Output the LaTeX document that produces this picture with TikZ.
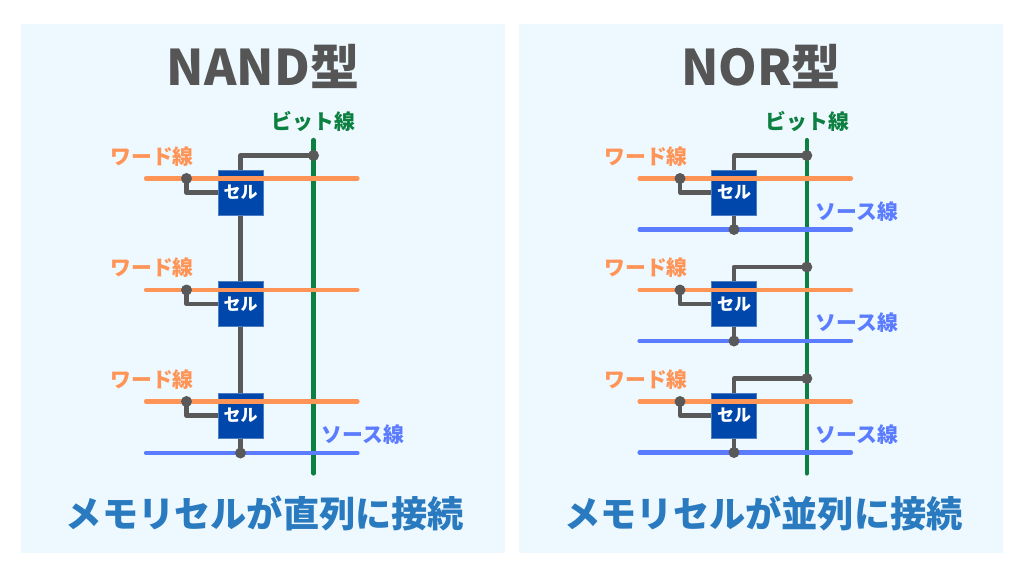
\documentclass[tikz,border=0pt]{standalone}
\usepackage{fontspec}
\setmainfont{Noto Sans CJK JP}
\usetikzlibrary{calc}
\definecolor{panelbg}{HTML}{EDF8FF}
\definecolor{titlegray}{HTML}{555555}
\definecolor{capblue}{HTML}{2A7ABF}
\definecolor{bitgreen}{HTML}{0B8040}
\definecolor{wordorange}{HTML}{FF9457}
\definecolor{srcblue}{HTML}{5B7CFF}
\definecolor{cellblue}{HTML}{0047AB}
\definecolor{wiregray}{HTML}{595959}
\pgfdeclarelayer{wires}
\pgfdeclarelayer{hlines}
\pgfdeclarelayer{dots}
\pgfsetlayers{wires,main,hlines,dots}
\tikzset{
  panel/.style={fill=panelbg,draw=none,inner sep=0pt,minimum width=484pt,minimum height=529pt},
  celbox/.style={fill=cellblue,draw=cellblue!70!white,line width=.5pt,minimum width=45pt,minimum height=45pt,inner sep=0pt,text=white,font=\bfseries\fontsize{17}{17}\selectfont},
  wire/.style={draw=wiregray,line width=4.2pt,line join=round},
  dotmark/.style={circle,fill=wiregray,draw=none,minimum size=11pt,inner sep=0pt},
  wordline/.style={draw=wordorange,line width=4.2pt,line cap=round},
  srcline/.style={draw=srcblue,line width=4.2pt,line cap=round},
  bitline/.style={draw=bitgreen,line width=4.2pt,line cap=round},
  titletext/.style={text=titlegray,font=\bfseries\fontsize{49.1}{49.1}\selectfont,inner sep=0pt},
  captext/.style={text=capblue,font=\bfseries\fontsize{36.2}{36.2}\selectfont,inner sep=0pt},
  wordlabel/.style={text=wordorange,font=\bfseries\fontsize{20.8}{20.8}\selectfont,inner sep=0pt},
  srclabel/.style={text=srcblue,font=\bfseries\fontsize{20.8}{20.8}\selectfont,inner sep=0pt},
  bitlabel/.style={text=bitgreen,font=\bfseries\fontsize{20.8}{20.8}\selectfont,inner sep=0pt},
}
\begin{document}
\begin{tikzpicture}[x=1pt,y=-1pt]
\useasboundingbox (0,0) rectangle (1024,576);
\begin{pgfonlayer}{wires}
  \fill[white] (0,0) rectangle (1024,576);
  \node[panel] (panelL) at (263,288.5) {};
  \node[panel] (panelR) at (761,288.5) {};
\end{pgfonlayer}
% titles and captions
\node[titletext] (titleL) at (263,66) {NAND型};
\node[titletext] (titleR) at (761,66) {NOR型};
\node[captext] (capL) at (265,513.5) {メモリセルが直列に接続};
\node[captext] (capR) at (763.5,513.5) {メモリセルが並列に接続};
% ---------- NAND ----------
\node[bitlabel] (bitlabL) at (313.5,121.5) {ビット線};
\coordinate (bitLtop) at (313.5,140);
\coordinate (bitLbot) at (313.5,473.5);
\begin{pgfonlayer}{wires}
  \draw[bitline] (bitLtop) -- (bitLbot);
\end{pgfonlayer}
\foreach \n/\y in {1/0,2/111.5,3/223} {
  \node[celbox] (cL\n) at (240.5,192.5+\y) {\raisebox{-2pt}{セル}};
  \node[wordlabel] (wlabL\n) at (152,156.5+\y) {ワード線};
  \coordinate (wLa\n) at (146,178.5+\y);
  \coordinate (wLb\n) at (357.5,178.5+\y);
  \begin{pgfonlayer}{hlines}
    \draw[wordline] (wLa\n) -- (wLb\n);
  \end{pgfonlayer}
  \begin{pgfonlayer}{dots}
    \node[dotmark] (wdL\n) at (186.5,178.5+\y) {};
  \end{pgfonlayer}
  \begin{pgfonlayer}{wires}
    \draw[wire] (wdL\n.center) |- (cL\n.west);
  \end{pgfonlayer}
}
\begin{pgfonlayer}{dots}
  \node[dotmark] (bdL) at (313.5,155.5) {};
  \node[dotmark] (sdL) at (240.5,453) {};
\end{pgfonlayer}
\begin{pgfonlayer}{wires}
  \draw[wire] (cL1.north) |- (bdL.center);
  \draw[wire] (cL1.south) -- (cL2.north);
  \draw[wire] (cL2.south) -- (cL3.north);
  \draw[wire] (cL3.south) -- (sdL.center);
\end{pgfonlayer}
\coordinate (sLa) at (146,453);
\coordinate (sLb) at (357.5,453);
\begin{pgfonlayer}{hlines}
  \draw[srcline] (sLa) -- (sLb);
\end{pgfonlayer}
\node[srclabel] (slabL) at (363,434.5) {ソース線};
% ---------- NOR ----------
\node[bitlabel] (bitlabR) at (807.5,121.5) {ビット線};
\coordinate (bitRtop) at (806.8,140);
\coordinate (bitRbot) at (806.8,473.5);
\begin{pgfonlayer}{wires}
  \draw[bitline] (bitRtop) -- (bitRbot);
\end{pgfonlayer}
\foreach \n/\y in {1/0,2/111.5,3/223} {
  \node[celbox] (cR\n) at (734,192.5+\y) {\raisebox{-2pt}{セル}};
  \node[wordlabel] (wlabR\n) at (646,156.5+\y) {ワード線};
  \node[srclabel] (slabR\n) at (857,211.5+\y) {ソース線};
  \coordinate (wRa\n) at (639.5,178.5+\y);
  \coordinate (wRb\n) at (851,178.5+\y);
  \coordinate (sRa\n) at (639.5,229.5+\y);
  \coordinate (sRb\n) at (851,229.5+\y);
  \begin{pgfonlayer}{hlines}
    \draw[wordline] (wRa\n) -- (wRb\n);
    \draw[srcline] (sRa\n) -- (sRb\n);
  \end{pgfonlayer}
  \begin{pgfonlayer}{dots}
    \node[dotmark] (wdR\n) at (680,178.5+\y) {};
    \node[dotmark] (bdR\n) at (806.8,155.5+\y) {};
    \node[dotmark] (sdR\n) at (734,229.5+\y) {};
  \end{pgfonlayer}
  \begin{pgfonlayer}{wires}
    \draw[wire] (wdR\n.center) |- (cR\n.west);
    \draw[wire] (cR\n.north) |- (bdR\n.center);
    \draw[wire] (cR\n.south) -- (sdR\n.center);
  \end{pgfonlayer}
}
\end{tikzpicture}
\end{document}
